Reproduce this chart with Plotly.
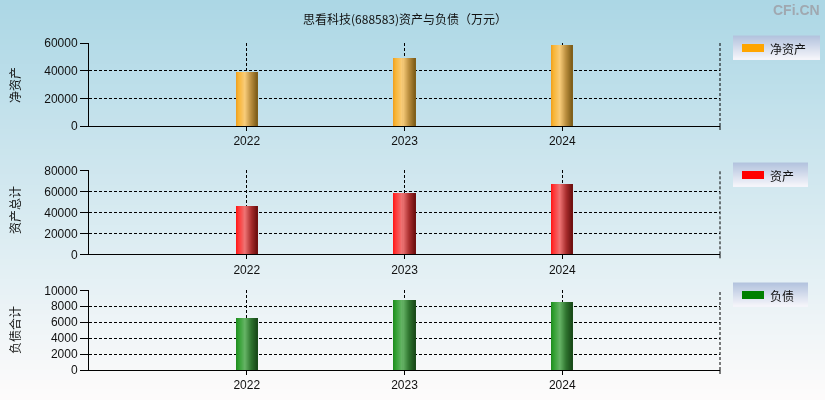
import plotly.graph_objects as go

# ---------------- data ----------------
years = ["2022", "2023", "2024"]
net_assets = [39000, 49000, 58300]          # 净资产
total_assets = [46000, 58200, 67000]        # 资产总计
total_liabilities = [6500, 8800, 8500]      # 负债合计

title_text = "思看科技(688583)资产与负债（万元）"
panel_titles = ["净资产", "资产总计", "负债合计"]
legend_names = ["净资产", "资产", "负债"]
legend_colors = ["#FFA500", "#FF0000", "#008000"]
y_ranges = [[0, 60000], [0, 80000], [0, 10000]]
y_dticks = [20000, 20000, 2000]

# ---------------- style helpers ----------------
W, H = 825, 400
def px_x(p):
    return p / W
def px_y(p):
    return 1 - p / H

def lerp(c1, c2, t):
    return tuple(round(a + (b - a) * t) for a, b in zip(c1, c2))

def hex2rgb(h):
    h = h.lstrip("#")
    return tuple(int(h[i:i + 2], 16) for i in (0, 2, 4))

def grad_color(stops, t):
    for i in range(len(stops) - 1):
        p0, c0 = stops[i]
        p1, c1 = stops[i + 1]
        if p0 <= t <= p1:
            u = (t - p0) / (p1 - p0) if p1 > p0 else 0
            r, g, b = lerp(hex2rgb(c0), hex2rgb(c1), u)
            return f"rgb({r},{g},{b})"
    r, g, b = hex2rgb(stops[-1][1])
    return f"rgb({r},{g},{b})"

bar_stops = [
    [(0, "#EE9E1E"), (0.12, "#F8B434"), (0.42, "#F8CC7A"), (0.72, "#B88C3C"), (1.0, "#7C5C18")],
    [(0, "#FF1414"), (0.12, "#FF3434"), (0.42, "#EE7474"), (0.72, "#AA2E2E"), (1.0, "#6C0E0E")],
    [(0, "#1E8A1E"), (0.12, "#2E9E2E"), (0.42, "#66B466"), (0.72, "#2E742E"), (1.0, "#184818")],
]

series = [net_assets, total_assets, total_liabilities]
domains_y = [
    [px_y(126), px_y(43)],
    [px_y(254.3), px_y(170.3)],
    [px_y(370), px_y(290.3)],
]
x_domain = [px_x(89), px_x(720)]

fig = go.Figure()

bar_w = 0.134
N = 21
for k, vals in enumerate(series):
    xa = "x" if k == 0 else f"x{k + 1}"
    ya = "y" if k == 0 else f"y{k + 1}"
    for i in range(N):
        t = (i + 0.5) / N
        fig.add_trace(go.Bar(
            x=years, y=vals, xaxis=xa, yaxis=ya,
            width=bar_w / N * 1.02, offset=-bar_w / 2 + i * bar_w / N,
            marker=dict(color=grad_color(bar_stops[k], t), line=dict(width=0)),
            showlegend=False, hoverinfo="x+y", name=legend_names[k],
        ))

layout = dict(
    width=W, height=H,
    margin=dict(l=0, r=0, t=0, b=0, pad=0, autoexpand=False),
    paper_bgcolor="rgba(0,0,0,0)",
    plot_bgcolor="rgba(0,0,0,0)",
    barmode="overlay",
    bargap=0,
    showlegend=False,
    font=dict(family="Liberation Sans, Arial, sans-serif", size=12, color="#111111"),
)

for k in range(3):
    sx = "" if k == 0 else str(k + 1)
    layout[f"xaxis{sx}"] = dict(
        domain=x_domain, anchor=f"y{sx}", type="category",
        categoryorder="array", categoryarray=years, automargin=False,
        range=[-1, 3], showgrid=True, gridcolor="#000000", gridwidth=1,
        griddash="3px,2px", showline=True, linecolor="#000000", linewidth=1,
        ticks="outside", ticklen=4, tickcolor="#000000",
        tickfont=dict(size=12, color="#111111"), fixedrange=True,
        zeroline=False,
    )
    layout[f"yaxis{sx}"] = dict(
        domain=domains_y[k], anchor=f"x{sx}", range=y_ranges[k], dtick=y_dticks[k],
        tickformat="d", automargin=False,
        showgrid=True, gridcolor="#000000", gridwidth=1, griddash="3px,2px",
        showline=True, linecolor="#000000", linewidth=1, zeroline=False,
        ticks="outside", ticklen=8, tickcolor="#000000",
        tickfont=dict(size=12, color="#111111"), fixedrange=True,
    )

shapes = []
# background gradient
top_c = (172, 215, 229)
bot_c = (253, 251, 251)
NB = 80
for i in range(NB):
    t = i / (NB - 1)
    r, g, b = lerp(top_c, bot_c, t)
    shapes.append(dict(type="rect", xref="paper", yref="paper",
                       x0=0, x1=1, y0=1 - (i + 1) / NB, y1=1 - i / NB + 0.001,
                       fillcolor=f"rgb({r},{g},{b})", line=dict(width=0), layer="below"))

# dashed right border + small tick below it
for k in range(3):
    sx = "" if k == 0 else str(k + 1)
    shapes.append(dict(type="line", xref=f"x{sx} domain", yref=f"y{sx} domain",
                       x0=1, x1=1, y0=0, y1=1,
                       line=dict(color="#000000", width=1, dash="3px,2px")))
    yb = domains_y[k][0]
    shapes.append(dict(type="line", xref=f"x{sx} domain", yref="paper",
                       x0=1, x1=1, y0=yb - 4 / H, y1=yb,
                       line=dict(color="#000000", width=1)))

# legend boxes
legend_boxes = [
    (733, 820, 36, 60),
    (733, 808, 163, 187),
    (733, 808, 283, 307),
]
box_top = (180, 196, 222)
box_bot = (244, 244, 250)
annotations = []
for k, (x0, x1, y0, y1) in enumerate(legend_boxes):
    NS = 12
    for i in range(NS):
        t = i / (NS - 1)
        r, g, b = lerp(box_top, box_bot, t)
        ya0 = y0 + (y1 - y0) * i / NS
        ya1 = y0 + (y1 - y0) * (i + 1) / NS
        shapes.append(dict(type="rect", xref="paper", yref="paper",
                           x0=px_x(x0), x1=px_x(x1), y0=px_y(ya1), y1=px_y(ya0) + 0.001,
                           fillcolor=f"rgb({r},{g},{b})", line=dict(width=0)))
    cy = (y0 + y1) / 2
    shapes.append(dict(type="rect", xref="paper", yref="paper",
                       x0=px_x(742), x1=px_x(764), y0=px_y(cy + 4), y1=px_y(cy - 4),
                       fillcolor=legend_colors[k], line=dict(width=0)))
    annotations.append(dict(text=legend_names[k], xref="paper", yref="paper",
                            x=px_x(768), y=px_y(cy), xanchor="left", yanchor="middle",
                            showarrow=False,
                            font=dict(family="Noto Sans CJK SC", size=12, color="#111111")))

# title
annotations.append(dict(text=title_text, xref="paper", yref="paper",
                        x=px_x(405), y=px_y(18), xanchor="center", yanchor="middle",
                        showarrow=False,
                        font=dict(family="Noto Sans CJK SC", size=12, color="#111111")))
# watermark
annotations.append(dict(text="CFi.CN", xref="paper", yref="paper",
                        x=px_x(822), y=px_y(10), xanchor="right", yanchor="middle",
                        showarrow=False,
                        font=dict(family="Liberation Sans, Arial", size=14, color="#A0A8B0",
                                  weight="bold")))
# y-axis titles
title_centers = [85, 210, 330]
for k in range(3):
    annotations.append(dict(text=panel_titles[k], xref="paper", yref="paper",
                            x=px_x(14), y=px_y(title_centers[k]), xanchor="center",
                            yanchor="middle", textangle=-90, showarrow=False,
                            font=dict(family="Noto Sans CJK SC", size=12, color="#111111")))

layout["shapes"] = shapes
layout["annotations"] = annotations
fig.update_layout(**layout)

post = (
    "document.documentElement.style.margin='0';"
    "document.documentElement.style.overflow='hidden';"
    "document.body.style.margin='0';"
    "document.body.style.overflow='hidden';"
    "var d=document.getElementById('{plot_id}');"
    "d.style.position='fixed';d.style.top='0px';d.style.left='0px';"
)
fig.write_html("out.html", config={"displayModeBar": False}, post_script=post)
